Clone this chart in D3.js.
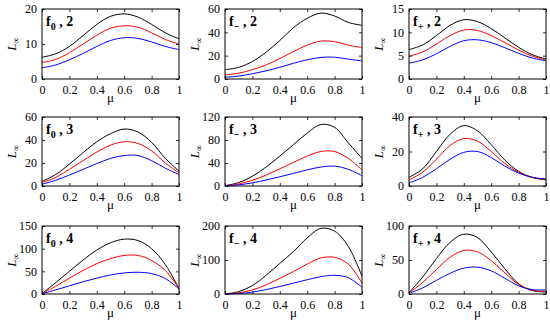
<!DOCTYPE html>
<html>
<head>
<meta charset="utf-8">
<script src="https://cdn.jsdelivr.net/npm/d3@7"></script>
<style>
body { margin: 0; background: #fff; }
text { font-family: "Liberation Serif", "Times New Roman", serif; }
</style>
</head>
<body>
<svg id="chart" width="550" height="324"></svg>
<script>
// mu samples
var mu = [0, 0.1, 0.2, 0.3, 0.4, 0.5, 0.6, 0.7, 0.8, 0.9, 1];

// panel titles: function name + order
var fnames = ["0", "\u2212", "+"];
var orders = [2, 3, 4];

// y tick values per panel (row major)
var yticks = [
  [0, 10, 20], [0, 20, 40, 60], [0, 5, 10, 15],
  [0, 20, 40, 60], [0, 40, 80, 120], [0, 20, 40],
  [0, 50, 100, 150], [0, 100, 200], [0, 50, 100]
];

// curves: black, red, blue for each panel
var black = [
  [6.2, 7.2, 9.3, 12.4, 15.6, 17.9, 18.6, 17.7, 15.6, 13.2, 11.5],
  [8, 10, 15, 23, 33, 44, 52, 56.5, 54, 48.5, 46],
  [6.3, 7.3, 9.3, 11.5, 12.7, 12.3, 10.8, 8.8, 6.8, 5.2, 4.3],
  [4, 10, 19, 29, 38.5, 45.5, 49.5, 47, 38, 24, 13],
  [0.5, 6, 17, 33, 52, 72, 92, 107, 102, 75, 48],
  [5, 10, 20, 30, 35, 32, 24, 15, 8.5, 5, 3.5],
  [1, 25, 50, 75, 97, 113, 121, 118, 100, 65, 12],
  [0, 7, 25, 55, 90, 125, 165, 193, 185, 140, 52],
  [2, 25, 52, 76, 88, 83, 62, 37, 15, 5, 3]
];
var red = [
  [4.7, 5.6, 7.5, 10, 12.5, 14.5, 15.2, 14.8, 13.2, 11.3, 10],
  [3.5, 5, 8, 12, 17.5, 23.5, 29, 32.5, 32, 29, 27],
  [4.9, 5.8, 7.5, 9.3, 10.5, 10.4, 9.3, 7.8, 6.2, 4.9, 4.1],
  [3, 7.5, 14.5, 22, 29.5, 35.5, 38.5, 37, 30.5, 20, 11.5],
  [0.3, 3.5, 10, 19, 30, 41, 52, 60, 60, 48, 28],
  [3.5, 8, 15.5, 23.5, 27.5, 26, 20, 13, 8, 5, 3.8],
  [1, 17, 35, 52, 67, 78, 85, 85, 74, 52, 12],
  [0, 3.5, 12, 27, 46, 66, 88, 106, 108, 88, 32],
  [1.5, 17, 36, 54, 64, 62, 49, 31, 14, 5.5, 4]
];
var blue = [
  [3.2, 4, 5.5, 7.3, 9.3, 11, 11.8, 11.6, 10.6, 9.3, 8.4],
  [1.5, 2.5, 4.5, 7, 10, 13.5, 16.5, 18.5, 18.7, 17, 15.5],
  [3.4, 4.1, 5.4, 7, 8.2, 8.4, 7.8, 6.7, 5.5, 4.5, 3.9],
  [1.5, 5, 9.5, 14.5, 19.5, 24, 26.5, 26.5, 22, 15.5, 10],
  [0.2, 2, 5.5, 10.5, 16, 22, 28, 33, 34.5, 29, 18],
  [1.8, 5, 10, 15.5, 19.5, 20, 16.5, 11.5, 7.5, 5, 4.2],
  [0.5, 9, 18, 27, 35, 42, 46.5, 48, 45, 34, 11],
  [0, 1.5, 5.5, 13, 22, 32, 42, 51, 55, 48, 20],
  [1, 9, 20, 30.5, 38, 39.5, 34, 23, 12, 6.5, 6]
];
var xticks = [0, 0.2, 0.4, 0.6, 0.8, 1];

var colLeft = [42, 225, 409];
var rowTop = [9, 117, 226];
var rowBottom = [79, 186, 294];
var pw = 137;

var svg = d3.select("#chart");

for (var p = 0; p < 9; p++) {
  var r = Math.floor(p / 3), c = p % 3;
  var x0 = colLeft[c], y0 = rowTop[r], ph = rowBottom[r] - rowTop[r];
  var yt = yticks[p];

  var x = d3.scaleLinear().domain([0, 1]).range([0, pw]);
  var y = d3.scaleLinear().domain([0, yt[yt.length - 1]]).range([ph, 0]);

  var g = svg.append("g").attr("transform", "translate(" + x0 + "," + y0 + ")");

  var line = d3.line()
    .x(function(d, i) { return x(mu[i]); })
    .y(function(d) { return y(d); })
    .curve(d3.curveCatmullRom.alpha(0.5));

  [[black[p], "#000"], [red[p], "#ff0000"], [blue[p], "#0000ff"]].forEach(function(s) {
    g.append("path").datum(s[0])
      .attr("d", line)
      .attr("fill", "none")
      .attr("stroke", s[1])
      .attr("stroke-width", 1);
  });

  // axes, inward ticks, MATLAB style
  var xb = g.append("g").attr("transform", "translate(0," + ph + ")")
    .call(d3.axisBottom(x).tickValues(xticks).tickSizeInner(-3).tickSizeOuter(0).tickPadding(6)
      .tickFormat(function(d) { return d3.format("")(d); }));
  var xt = g.append("g")
    .call(d3.axisTop(x).tickValues(xticks).tickSizeInner(-3).tickSizeOuter(0).tickFormat(""));
  var yl = g.append("g")
    .call(d3.axisLeft(y).tickValues(yt).tickSizeInner(-3).tickSizeOuter(0).tickPadding(5));
  var yr = g.append("g").attr("transform", "translate(" + pw + ",0)")
    .call(d3.axisRight(y).tickValues(yt).tickSizeInner(-3).tickSizeOuter(0).tickFormat(""));

  [xb, xt, yl, yr].forEach(function(a) {
    a.select(".domain").remove();
    a.selectAll("line").attr("stroke", "#000").attr("stroke-width", 0.8);
    a.selectAll("text").attr("fill", "#000").style("font-size", "12px")
      .style("font-family", "'Liberation Serif', serif");
  });

  g.append("rect").attr("width", pw).attr("height", ph)
    .attr("fill", "none").attr("stroke", "#000").attr("stroke-width", 1);

  // x label
  g.append("text")
    .attr("x", pw / 2).attr("y", ph + 23)
    .attr("text-anchor", "middle")
    .style("font-size", "13px")
    .text("\u03bc");

  // y label
  var ylab = g.append("text")
    .attr("transform", "translate(" + (-26) + "," + (ph / 2) + ") rotate(-90)")
    .attr("text-anchor", "middle")
    .style("font-size", "13px");
  ylab.append("tspan").style("font-style", "italic").text("L");
  ylab.append("tspan").attr("dy", 3).style("font-size", "9px").text("\u221e");

  // panel title
  var t = g.append("text")
    .attr("x", 4).attr("y", 17)
    .style("font-size", "14px")
    .style("font-weight", "bold");
  t.append("tspan").text("f");
  t.append("tspan").attr("dy", 4).style("font-size", "10px").text(fnames[c]);
  t.append("tspan").attr("dy", -4).text(" , " + orders[r]);
}
</script>
</body>
</html>
